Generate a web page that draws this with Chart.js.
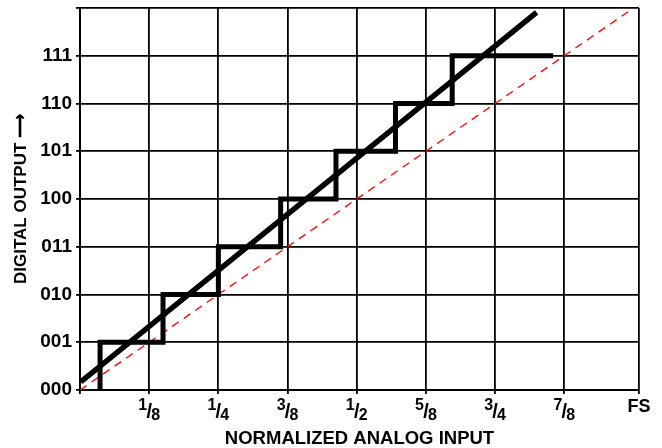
<!DOCTYPE html>
<html>
<head>
<meta charset="utf-8">
<script src="https://cdn.jsdelivr.net/npm/chart.js@4.4.0/dist/chart.umd.min.js"></script>
<style>
  html, body { margin: 0; padding: 0; background: #fff; }
</style>
</head>
<body>
<canvas id="chart-adc" width="662" height="448"></canvas>
<script>
// ADC transfer function with gain error
const FONT = '"Liberation Sans", Arial, Helvetica, sans-serif';

// y: output codes (index = code value)
const codeLabels = ['000', '001', '010', '011', '100', '101', '110', '111'];
// x: ticks in eighths of FS (the FS line sits a bit wider on the original)
const xTickValues = [0, 1, 2, 3, 4, 5, 6, 7, 8.08];
const xTickNum    = ['', '1', '1', '3', '1', '5', '3', '7', 'FS'];
const xTickDen    = ['', '8', '4', '8', '2', '8', '4', '8', ''];
// staircase code transitions (x in eighths)
const stepEdges = [0.29, 1.2, 2.0, 2.9, 3.7, 4.56, 5.38];
const stepEndX  = 6.84;
// thick straight line through the steps
const gainLineX = [0.01, 6.6];
const gainLineY = [0.17, 7.91];
// ideal transfer (red dashed)
const idealX = [0, 8];
const idealY = [0, 8];

Chart.defaults.font.family = FONT;
Chart.defaults.color = '#000';
Chart.defaults.animation = false;

function stairPoints() {
  const pts = [];
  stepEdges.forEach((x, i) => {
    pts.push({ x: x, y: i });
    pts.push({ x: x, y: i + 1 });
  });
  pts.push({ x: stepEndX, y: stepEdges.length });
  return pts;
}

const zip = (xs, ys) => xs.map((x, i) => ({ x: x, y: ys[i] }));

// x tick labels as stacked fractions (numerator up, denominator down)
const fracLabels = {
  id: 'fracLabels',
  afterDraw(chart) {
    const ctx = chart.ctx;
    const xs = chart.scales.x;
    ctx.save();
    ctx.fillStyle = '#000';
    ctx.textBaseline = 'alphabetic';
    xTickValues.forEach((v, i) => {
      const px = xs.getPixelForValue(v);
      if (!xTickNum[i]) return;
      if (!xTickDen[i]) {
        ctx.font = 'bold 18px ' + FONT;
        ctx.textAlign = 'center';
        ctx.fillText(xTickNum[i], px, 412);
        return;
      }
      ctx.font = 'bold 16px ' + FONT;
      ctx.textAlign = 'right';
      ctx.fillText(xTickNum[i], px - 2, 410);
      ctx.font = 'bold 20px ' + FONT;
      ctx.textAlign = 'center';
      ctx.fillText('/', px, 418);
      ctx.font = 'bold 16px ' + FONT;
      ctx.textAlign = 'left';
      ctx.fillText(xTickDen[i], px + 2, 420);
    });
    ctx.restore();
  }
};

new Chart(document.getElementById('chart-adc').getContext('2d'), {
  type: 'scatter',
  data: {
    datasets: [
      {
        label: 'Output code',
        data: stairPoints(),
        showLine: true,
        borderColor: '#000',
        borderWidth: 5,
        borderJoinStyle: 'miter',
        pointRadius: 0,
      },
      {
        label: 'Actual',
        data: zip(gainLineX, gainLineY),
        showLine: true,
        borderColor: '#000',
        borderWidth: 5.5,
        pointRadius: 0,
      },
      {
        label: 'Ideal',
        data: zip(idealX, idealY),
        showLine: true,
        borderColor: '#ff0000',
        borderWidth: 1.3,
        borderDash: [8, 6],
        pointRadius: 0,
      },
    ]
  },
  options: {
    responsive: false,
    layout: { padding: { top: 8, right: 23, left: 0, bottom: 0 } },
    plugins: { legend: { display: false }, tooltip: { enabled: false } },
    scales: {
      x: {
        type: 'linear',
        min: 0, max: 8.08,
        afterBuildTicks: s => { s.ticks = xTickValues.map(v => ({ value: v })); },
        afterFit: s => { s.height = 58; s.paddingLeft = 0; s.paddingRight = 0; },
        ticks: { display: false },
        grid: { color: '#000', lineWidth: 1.8, tickLength: 4 },
        border: { color: '#000', width: 2 },
        title: {
          display: true, text: 'NORMALIZED ANALOG INPUT',
          font: { size: 18.5, weight: 'bold', lineHeight: 1 },
          padding: { top: 0, bottom: 0 }
        }
      },
      y: {
        min: 0, max: 8,
        afterFit: s => { s.width = 80; s.paddingTop = 0; s.paddingBottom = 0; },
        ticks: {
          stepSize: 1, padding: 4,
          font: { size: 19, weight: 'bold' },
          callback: v => codeLabels[v] || ''
        },
        grid: { color: '#000', lineWidth: 1.8, tickLength: 4 },
        border: { color: '#000', width: 2 },
        title: {
          display: true, text: 'DIGITAL OUTPUT \u27F6',
          font: { size: 17, weight: 'bold', lineHeight: 1 },
          padding: { top: 13, bottom: 0 }
        }
      }
    }
  },
  plugins: [fracLabels]
});
</script>
</body>
</html>
